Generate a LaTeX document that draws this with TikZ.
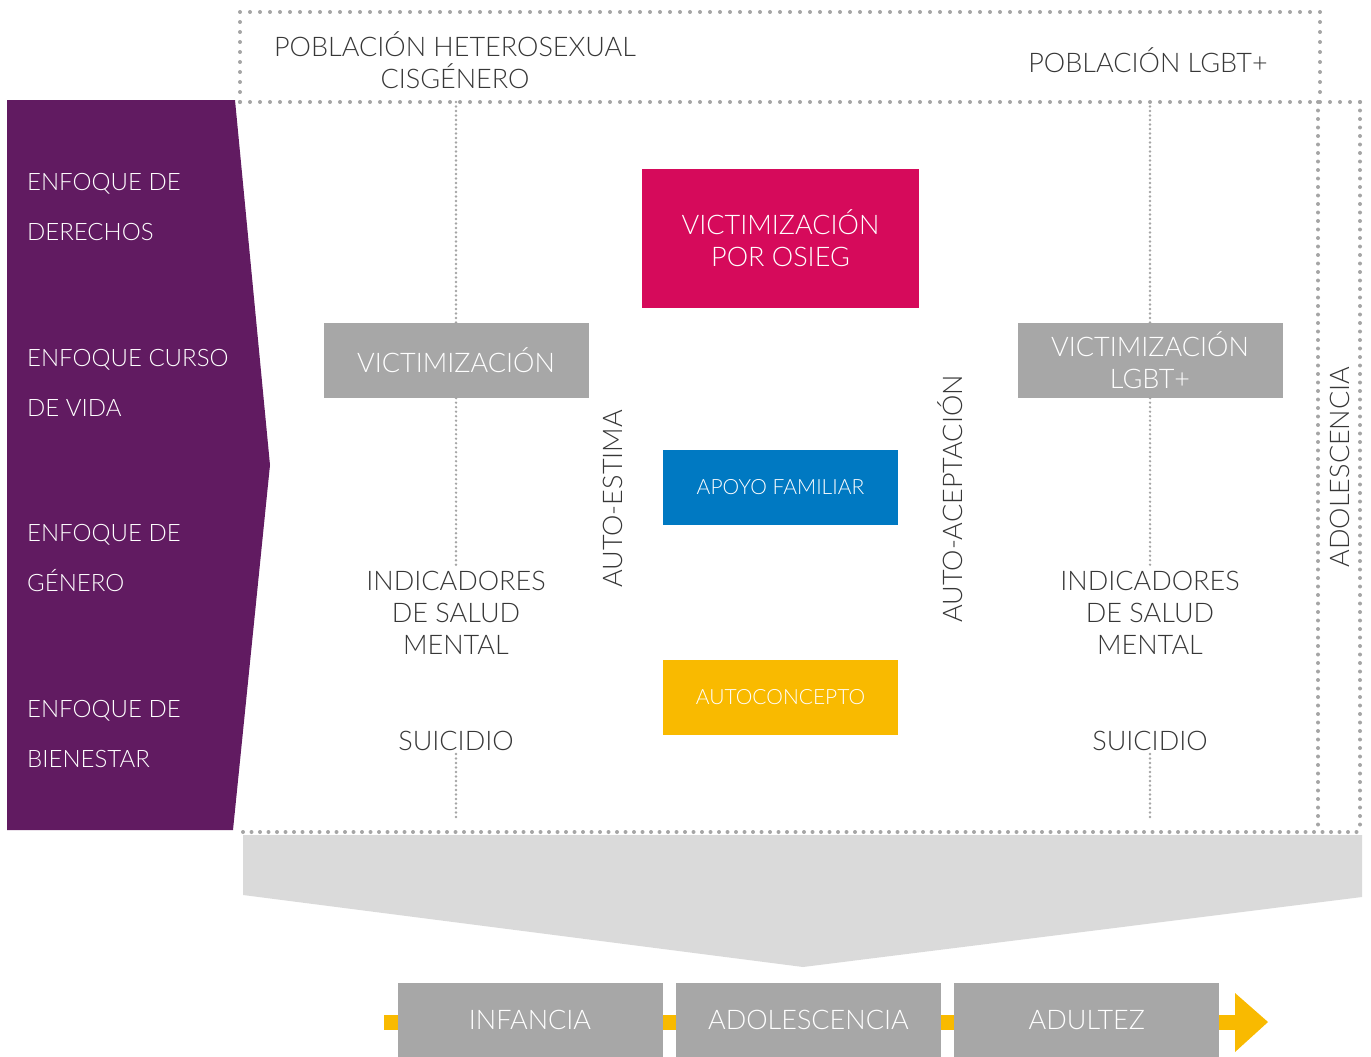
\documentclass[tikz,border=0pt]{standalone}
\usepackage{fontspec}
\IfFontExistsTF{Lato Light}{\setmainfont{Lato Light}}{\setmainfont{Lato}}
\usetikzlibrary{positioning}

\definecolor{morado}{RGB}{97,27,97}
\definecolor{rosa}{RGB}{214,10,91}
\definecolor{azul}{RGB}{0,121,194}
\definecolor{amarillo}{RGB}{249,186,0}
\definecolor{grisCaja}{RGB}{167,167,167}
\definecolor{grisClaro}{RGB}{218,218,218}
\definecolor{grisPunto}{RGB}{165,165,165}
\definecolor{texto}{RGB}{55,55,55}

\begin{document}
\begin{tikzpicture}[x=1pt, y=-1pt,
    caja/.style={fill=grisCaja, text=white, minimum width=265pt, minimum height=75pt,
        inner sep=0pt, align=center, font=\fontsize{27}{32}\selectfont},
    cajaChica/.style={caja, minimum width=235pt, font=\fontsize{21}{24}\selectfont},
    rotulo/.style={text=texto, align=center, inner sep=3pt, font=\fontsize{27}{32}\selectfont},
    enfoque/.style={text=white, align=left, anchor=west, inner sep=0pt,
        font=\fontsize{24}{50}\selectfont},
    punteado/.style={draw=grisPunto, line width=4pt, line cap=round, dash pattern=on 0pt off 10pt},
    punteadoDenso/.style={punteado, dash pattern=on 0pt off 8.5pt},
    puntitos/.style={draw=grisPunto, line width=2.6pt, line cap=round, dash pattern=on 0pt off 4.5pt}]

    \useasboundingbox (0,0) rectangle (1371,1057);

    % Purple band and gray chevron
    \fill[morado] (7,100) -- (235,100) -- (270,465) -- (233,830) -- (7,830) -- cycle;
    \fill[grisClaro] (243,835) -- (1362,835) -- (1362,897) -- (803,967) -- (243,895) -- cycle;

    % Dotted frames
    \draw[punteado] (240,102) -- (240,12) -- (1320,12) -- (1320,102);
    \draw[punteado] (240,102) -- (1362,102);
    \draw[punteadoDenso] (1318,102) -- (1318,832);
    \draw[punteadoDenso] (1360,102) -- (1360,832);
    \draw[punteadoDenso] (243,832) -- (1362,832);

    % Populations
    \node[rotulo] (hetero) at (455,60) {POBLACIÓN HETEROSEXUAL\\CISGÉNERO};
    \node[rotulo] (lgbt) at (1148,60) {POBLACIÓN LGBT+};

    % Approaches
    \node[enfoque] (derechos) at (27,207) {ENFOQUE DE\\DERECHOS};
    \node[enfoque] (cursoVida) at (27,383) {ENFOQUE CURSO\\DE VIDA};
    \node[enfoque] (genero) at (27,558) {ENFOQUE DE\\GÉNERO};
    \node[enfoque] (bienestar) at (27,734) {ENFOQUE DE\\BIENESTAR};

    % Left column
    \coordinate (arribaL) at (456,102);
    \coordinate (abajoL) at (456,820);
    \node[caja] (victimaL) at (456,360.5) {VICTIMIZACIÓN};
    \node[rotulo] (saludL) at (456,613) {INDICADORES\\DE SALUD\\MENTAL};
    \node[rotulo] (suicidioL) at (456,741) {SUICIDIO};
    \draw[puntitos] (arribaL) -- (victimaL);
    \draw[puntitos] (victimaL) -- (saludL);
    \draw[puntitos] (suicidioL) -- (abajoL);

    % Right column
    \coordinate (arribaR) at (1150,102);
    \coordinate (abajoR) at (1150,820);
    \node[caja] (victimaR) at (1150,360.5) {VICTIMIZACIÓN\\LGBT+};
    \node[rotulo] (saludR) at (1150,613) {INDICADORES\\DE SALUD\\MENTAL};
    \node[rotulo] (suicidioR) at (1150,741) {SUICIDIO};
    \draw[puntitos] (arribaR) -- (victimaR);
    \draw[puntitos] (victimaR) -- (saludR);
    \draw[puntitos] (suicidioR) -- (abajoR);

    % Centre
    \node[caja, fill=rosa, minimum width=277pt, minimum height=139pt] (osieg) at (780.5,238.5) {VICTIMIZACIÓN\\POR OSIEG};
    \node[cajaChica, fill=azul] (apoyo) at (780.5,487.5) {APOYO FAMILIAR};
    \node[cajaChica, fill=amarillo] (autoconcepto) at (780.5,697.5) {AUTOCONCEPTO};
    \node[rotulo, rotate=90] (autoestima) at (613,499) {AUTO-ESTIMA};
    \node[rotulo, rotate=90] (autoaceptacion) at (950,499) {AUTO-ACEPTACIÓN};
    \node[rotulo, rotate=90] (etapa) at (1340,467) {ADOLESCENCIA};

    % Life course
    \coordinate (inicio) at (384,1022);
    \coordinate (punta) at (1236,1022);
    \draw[amarillo, line width=15pt] (inicio) -- (punta);
    \fill[amarillo] (1235,993) -- (1268,1022) -- (1235,1052) -- cycle;
    \node[caja] (infancia) at (530,1020) {INFANCIA};
    \node[caja, right=13pt of infancia] (adolescencia) {ADOLESCENCIA};
    \node[caja, right=13pt of adolescencia] (adultez) {ADULTEZ};

\end{tikzpicture}
\end{document}
